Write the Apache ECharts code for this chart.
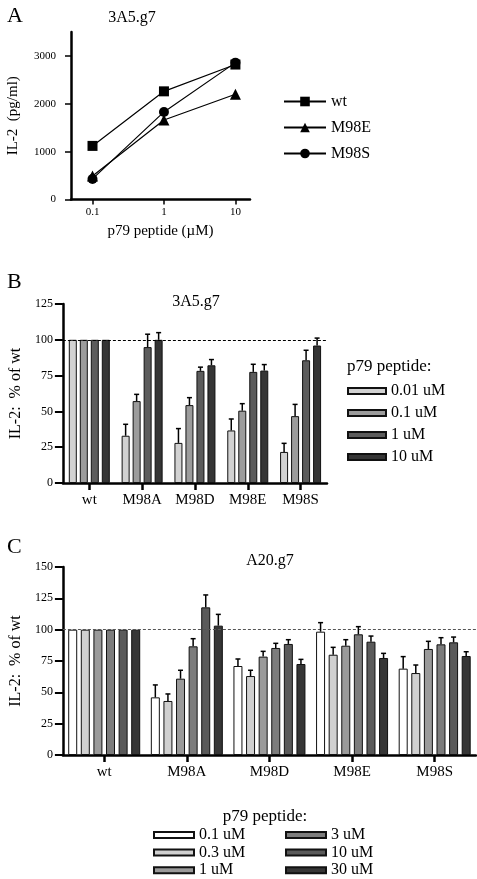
<!DOCTYPE html>
<html><head><meta charset="utf-8">
<script src="https://cdn.jsdelivr.net/npm/echarts@6/dist/echarts.min.js"></script>
<style>html,body{margin:0;padding:0;background:#fff}#c{width:477px;height:879px}</style>
</head><body><div id="c"></div>
<script>
// ---------- Panel A data ----------
const concA = [0.1, 1, 10];
const namesA = ['wt', 'M98E', 'M98S'];
const wtA = [1120, 2260, 2820];
const m98eA = [490, 1660, 2200];
const m98sA = [430, 1830, 2860];
const yTicksA = [0, 1000, 2000, 3000];
const xTicksA = [0.1, 1, 10];

// ---------- Panel B data ----------
const catsB = ['wt', 'M98A', 'M98D', 'M98E', 'M98S'];
const dosesB = ['0.01 uM', '0.1 uM', '1 uM', '10 uM'];
const b001 = [100, 33, 28, 36.7, 21.7];
const b01 = [100, 57.2, 54.4, 50.5, 46.7];
const b1 = [100, 94.9, 78.3, 77.6, 85.7];
const b10 = [100, 100, 82.2, 78.5, 96];
const eb001 = [0, 8, 10, 8, 6];
const eb01 = [0, 4.7, 5.2, 4.9, 8.2];
const eb1 = [0, 9, 2.6, 5.3, 7];
const eb10 = [0, 5, 4, 4.2, 5.2];

// ---------- Panel C data ----------
const catsC = ['wt', 'M98A', 'M98D', 'M98E', 'M98S'];
const dosesC = ['0.1 uM', '0.3 uM', '1 uM', '3 uM', '10 uM', '30 uM'];
const c01 = [100, 46, 71, 98.4, 68.9];
const c03 = [100, 43.1, 63, 80, 65.4];
const c1 = [100, 60.9, 78.5, 87.2, 84.6];
const c3 = [100, 86.7, 85.4, 96.3, 88.3];
const c10 = [100, 117.8, 88.6, 90.4, 89.9];
const c30 = [100, 103.2, 72.6, 77.4, 79];
const ec01 = [0, 9.9, 5.6, 7.2, 9.6];
const ec03 = [0, 5.6, 4.6, 5.9, 6.4];
const ec1 = [0, 6.7, 4.2, 4.8, 6.1];
const ec3 = [0, 6.1, 3.7, 6.1, 5.3];
const ec10 = [0, 9.9, 3.4, 4.5, 4.2];
const ec30 = [0, 9, 3.7, 3.7, 3.4];

const FONT = 'Liberation Serif';
const colorsB = ['#d2d2d2', '#9c9c9c', '#5c5c5c', '#353535'];
const colorsC = ['#ffffff', '#d0d0d0', '#9a9a9a', '#7c7c7c', '#5a5a5a', '#363636'];

// unique internal series names per panel; legend shows the plain dose text
const keyB = d => 'B|' + d;
const keyC = d => 'C|' + d;
const stripKey = n => n.split('|').pop();

const chart = echarts.init(document.getElementById('c'), null, {renderer: 'canvas'});

function errRender(n, bw, gap) {
  return function (params, api) {
    const ci = api.value(0), v = api.value(1), e = api.value(2), bi = api.value(3);
    if (!e) return null;
    const base = api.coord([ci, v]);
    const top = api.coord([ci, v + e]);
    const x = base[0] + (bi - (n - 1) / 2) * bw * (1 + gap);
    const cap = 2.5;
    return {type: 'group', children: [
      {type: 'line', shape: {x1: x, y1: base[1], x2: x, y2: top[1]}, style: {stroke: '#000', lineWidth: 1.5}},
      {type: 'line', shape: {x1: x - cap, y1: top[1], x2: x + cap, y2: top[1]}, style: {stroke: '#000', lineWidth: 1.5}}
    ]};
  };
}

function errData(vals, errs) {
  const out = [];
  vals.forEach((arr, bi) => arr.forEach((v, ci) => out.push([ci, v, errs[bi][ci], bi])));
  return out;
}

const axisLineStyle = {color: '#000', width: 2.5};

function valueAxis(gridIndex, max, interval, name) {
  return {
    type: 'value', gridIndex, min: 0, max, interval,
    name, nameLocation: 'middle', nameGap: 36,
    nameTextStyle: {fontFamily: FONT, fontSize: 16, color: '#000'},
    axisLine: {show: true, lineStyle: axisLineStyle},
    axisTick: {show: true, length: 8, lineStyle: {color: '#000', width: 2}},
    axisLabel: {fontFamily: FONT, fontSize: 12, color: '#000', margin: 10, formatter: v => String(v)},
    splitLine: {show: false}
  };
}
function catAxis(gridIndex, cats) {
  return {
    type: 'category', gridIndex, data: cats,
    axisLine: {show: true, lineStyle: axisLineStyle},
    axisTick: {show: true, alignWithLabel: true, length: 7, lineStyle: {color: '#000', width: 2.5}},
    axisLabel: {fontFamily: FONT, fontSize: 15, color: '#000', margin: 10}
  };
}

const barsB = [b001, b01, b1, b10];
const errsB = [eb001, eb01, eb1, eb10];
const barsC = [c01, c03, c1, c3, c10, c30];
const errsC = [ec01, ec03, ec1, ec3, ec10, ec30];

const series = [];
// Panel A lines
const symA = ['rect', 'triangle', 'circle'];
const sizeA = [10, 11, 10];
[wtA, m98eA, m98sA].forEach((vals, i) => {
  series.push({
    type: 'line', name: namesA[i], xAxisIndex: 0, yAxisIndex: 0,
    data: concA.map((c, j) => [c, vals[j]]),
    symbol: symA[i], symbolSize: sizeA[i],
    itemStyle: {color: '#000'}, lineStyle: {color: '#000', width: 1.2},
    animation: false
  });
});
// Panel B bars
barsB.forEach((vals, i) => {
  const s = {
    type: 'bar', name: keyB(dosesB[i]), xAxisIndex: 1, yAxisIndex: 1, data: vals,
    barWidth: 8, barGap: '37.5%',
    itemStyle: {color: colorsB[i], borderColor: '#111', borderWidth: 1},
    animation: false
  };
  if (i === 0) s.markLine = {silent: true, symbol: 'none', label: {show: false},
    lineStyle: {color: '#000', type: [3, 2], width: 1}, data: [{yAxis: 100}], animation: false};
  series.push(s);
});
series.push({type: 'custom', xAxisIndex: 1, yAxisIndex: 1, renderItem: errRender(4, 8, 0.375),
  data: errData(barsB, errsB), encode: {x: 0, y: 1}, z: 5, animation: false});
// Panel C bars
barsC.forEach((vals, i) => {
  const s = {
    type: 'bar', name: keyC(dosesC[i]), xAxisIndex: 2, yAxisIndex: 2, data: vals,
    barWidth: 9, barGap: '40%',
    itemStyle: {color: colorsC[i], borderColor: '#111', borderWidth: 1},
    animation: false
  };
  if (i === 0) s.markLine = {silent: true, symbol: 'none', label: {show: false},
    lineStyle: {color: '#555', type: [3, 2], width: 1}, data: [{yAxis: 100}], animation: false};
  series.push(s);
});
series.push({type: 'custom', xAxisIndex: 2, yAxisIndex: 2, renderItem: errRender(6, 9, 0.4),
  data: errData(barsC, errsC), encode: {x: 0, y: 1}, z: 5, animation: false});

const legendText = {fontFamily: FONT, fontSize: 16, color: '#000'};

const option = {
  animation: false,
  backgroundColor: '#fff',
  textStyle: {fontFamily: FONT},
  title: [
    {text: 'A', left: 2, top: 0, textStyle: {fontFamily: FONT, fontSize: 22, fontWeight: 'normal', color: '#000'}},
    {text: '3A5.g7', left: 127, top: 5, textAlign: 'center', textStyle: {fontFamily: FONT, fontSize: 16, fontWeight: 'normal', color: '#000'}},
    {text: 'B', left: 2, top: 266, textStyle: {fontFamily: FONT, fontSize: 22, fontWeight: 'normal', color: '#000'}},
    {text: '3A5.g7', left: 191, top: 289, textAlign: 'center', textStyle: {fontFamily: FONT, fontSize: 16, fontWeight: 'normal', color: '#000'}},
    {text: 'p79 peptide:', left: 342, top: 353, textStyle: {fontFamily: FONT, fontSize: 17, fontWeight: 'normal', color: '#000'}},
    {text: 'C', left: 2, top: 531, textStyle: {fontFamily: FONT, fontSize: 22, fontWeight: 'normal', color: '#000'}},
    {text: 'A20.g7', left: 265, top: 548, textAlign: 'center', textStyle: {fontFamily: FONT, fontSize: 16, fontWeight: 'normal', color: '#000'}},
    {text: 'p79 peptide:', left: 260, top: 803, textAlign: 'center', textStyle: {fontFamily: FONT, fontSize: 17, fontWeight: 'normal', color: '#000'}}
  ],
  legend: [
    {data: namesA, orient: 'vertical', left: 283, top: 93.5, padding: 0, itemWidth: 42, itemHeight: 12, itemGap: 10,
      textStyle: Object.assign({lineHeight: 16}, legendText)},
    {data: dosesB.map(keyB), formatter: stripKey, orient: 'vertical', left: 347, top: 382.5, padding: 0, icon: 'rect', itemWidth: 38, itemHeight: 6, itemGap: 5,
      textStyle: Object.assign({lineHeight: 17}, legendText)},
    {data: dosesC.slice(0, 3).map(keyC), formatter: stripKey, orient: 'vertical', left: 153, top: 827, height: 80, padding: 0, icon: 'rect', itemWidth: 40, itemHeight: 6, itemGap: 1.6,
      textStyle: Object.assign({lineHeight: 14}, legendText)},
    {data: dosesC.slice(3).map(keyC), formatter: stripKey, orient: 'vertical', left: 285, top: 827, height: 80, padding: 0, icon: 'rect', itemWidth: 40, itemHeight: 6, itemGap: 1.6,
      textStyle: Object.assign({lineHeight: 14}, legendText)}
  ],
  grid: [
    {left: 71, top: 32, width: 179, height: 167.5},
    {left: 57, top: 304, width: 270, height: 179},
    {left: 57, top: 567, width: 419, height: 188}
  ],
  xAxis: [
    {type: 'log', logBase: 10, gridIndex: 0, min: 0.05, max: 16,
      name: 'p79 peptide (\u00b5M)', nameLocation: 'middle', nameGap: 24,
      nameTextStyle: {fontFamily: FONT, fontSize: 15, color: '#000'},
      axisLine: {show: true, lineStyle: axisLineStyle},
      axisTick: {show: true, length: 5, customValues: xTicksA, lineStyle: {color: '#000', width: 1.5}},
      axisLabel: {fontFamily: FONT, fontSize: 11, color: '#000', margin: 7, customValues: xTicksA,
        formatter: v => String(v)},
      splitLine: {show: false}, minorTick: {show: false}},
    catAxis(1, catsB),
    catAxis(2, catsC)
  ],
  yAxis: [
    {type: 'value', gridIndex: 0, min: 0, max: 3500,
      name: 'IL-2  (pg/ml)', nameLocation: 'middle', nameGap: 50,
      nameTextStyle: {fontFamily: FONT, fontSize: 15, color: '#000'},
      axisLine: {show: true, lineStyle: axisLineStyle},
      axisTick: {show: true, length: 6, customValues: yTicksA, lineStyle: {color: '#000', width: 1.5}},
      axisLabel: {fontFamily: FONT, fontSize: 11, color: '#000', margin: 15, customValues: yTicksA,
        formatter: v => String(v)},
      splitLine: {show: false}},
    valueAxis(1, 125, 25, 'IL-2:  % of wt'),
    valueAxis(2, 150, 25, 'IL-2:  % of wt')
  ],
  series
};
chart.setOption(option);
</script>
</body></html>
